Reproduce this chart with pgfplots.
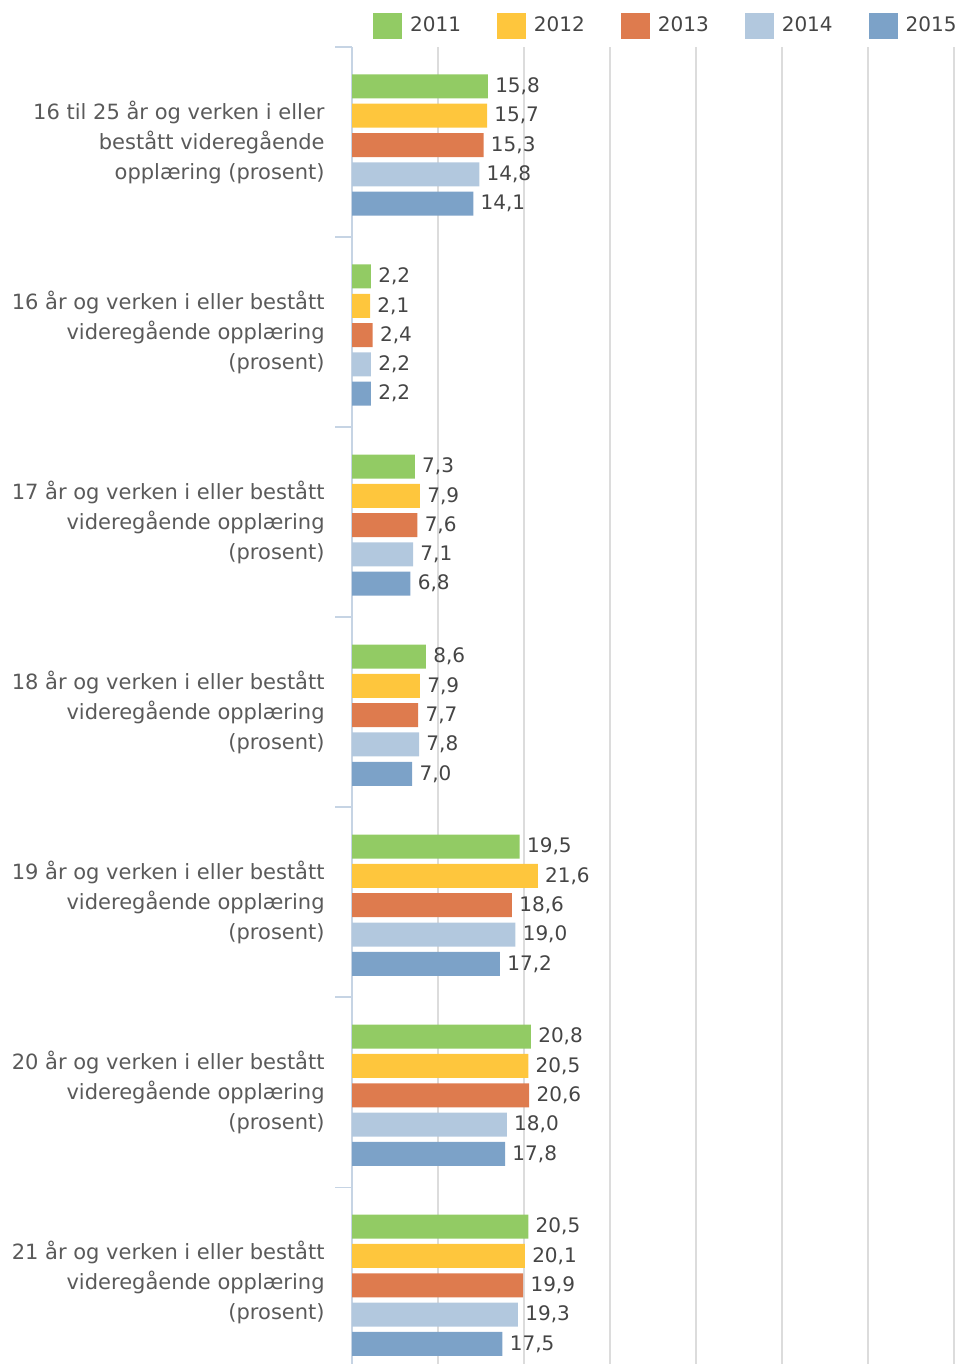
\documentclass[border=0pt]{standalone}
\usepackage{fontspec}
\setmainfont{DejaVu Sans}
\usepackage{pgfplots}
\pgfplotsset{compat=1.18}
\definecolor{c1}{HTML}{92CB64}
\definecolor{c2}{HTML}{FEC63D}
\definecolor{c3}{HTML}{DE7B4E}
\definecolor{c4}{HTML}{B2C8DE}
\definecolor{c5}{HTML}{7CA2C8}
\definecolor{axisc}{HTML}{C6D4E4}
\definecolor{gridc}{HTML}{DCDCDC}
\definecolor{labc}{HTML}{5A5A5A}
\definecolor{valc}{HTML}{454545}
\begin{document}
\begin{tikzpicture}
\begin{axis}[
 at={(176pt,0pt)}, anchor=south west,
 scale only axis, width=301pt, height=658.5pt,
 xbar, bar width=12pt,
 xmin=0, xmax=70, ymin=-0.5, ymax=6.43, y dir=reverse,
 axis y line*=left, axis x line*=bottom,
 x axis line style={draw=none},
 y axis line style={draw=axisc, line width=0.75pt, -},
 xtick={10,20,...,70}, xticklabels={},
 xmajorgrids, major x grid style={gridc, line width=0.6pt},
 ytick={0,...,6},
 yticklabels={{16 til 25 år og verken i eller\\bestått videregående\\opplæring (prosent)},
  {16 år og verken i eller bestått\\videregående opplæring\\(prosent)},
  {17 år og verken i eller bestått\\videregående opplæring\\(prosent)},
  {18 år og verken i eller bestått\\videregående opplæring\\(prosent)},
  {19 år og verken i eller bestått\\videregående opplæring\\(prosent)},
  {20 år og verken i eller bestått\\videregående opplæring\\(prosent)},
  {21 år og verken i eller bestått\\videregående opplæring\\(prosent)}},
 yticklabel style={align=right, font=\fontsize{10.5}{15}\selectfont, text=labc, inner sep=0pt, xshift=-13.5pt},
 minor ytick={-0.5,0.5,...,6.5},
 tick align=outside,
 major tick length=0pt,
 minor tick length=8.5pt,
 minor tick style={axisc, line width=0.75pt},
 nodes near coords,
 nodes near coords align=horizontal,
 every node near coord/.append style={/pgf/number format/fixed, /pgf/number format/fixed zerofill, /pgf/number format/precision=1, /pgf/number format/use comma, /pgf/number format/assume math mode=true, font=\fontsize{10}{12}\selectfont, text=valc, inner xsep=3.5pt},
 legend columns=5,
 legend style={at={(axis description cs:0.523,1.016)}, anchor=center, draw=none, fill=none, font=\fontsize{10}{12}\selectfont, text=valc, /tikz/every even column/.append style={column sep=16pt}, /tikz/every odd column/.append style={column sep=2pt}, inner sep=0pt},
 legend image code/.code={\fill[#1] (0pt,-6.3pt) rectangle (14.5pt,6.3pt);},
]
\addplot[fill=c1, draw=none, bar shift=27.8pt] coordinates {(15.8,0) (2.2,1) (7.3,2) (8.6,3) (19.5,4) (20.8,5) (20.5,6)};
\addplot[fill=c2, draw=none, bar shift=13.15pt] coordinates {(15.7,0) (2.1,1) (7.9,2) (7.9,3) (21.6,4) (20.5,5) (20.1,6)};
\addplot[fill=c3, draw=none, bar shift=-1.5pt] coordinates {(15.3,0) (2.4,1) (7.6,2) (7.7,3) (18.6,4) (20.6,5) (19.9,6)};
\addplot[fill=c4, draw=none, bar shift=-16.15pt] coordinates {(14.8,0) (2.2,1) (7.1,2) (7.8,3) (19.0,4) (18.0,5) (19.3,6)};
\addplot[fill=c5, draw=none, bar shift=-30.8pt] coordinates {(14.1,0) (2.2,1) (6.8,2) (7.0,3) (17.2,4) (17.8,5) (17.5,6)};
\legend{2011,2012,2013,2014,2015}
\end{axis}
\pgfresetboundingbox
\path (0,0) rectangle (484pt,682pt);
\end{tikzpicture}
\end{document}
